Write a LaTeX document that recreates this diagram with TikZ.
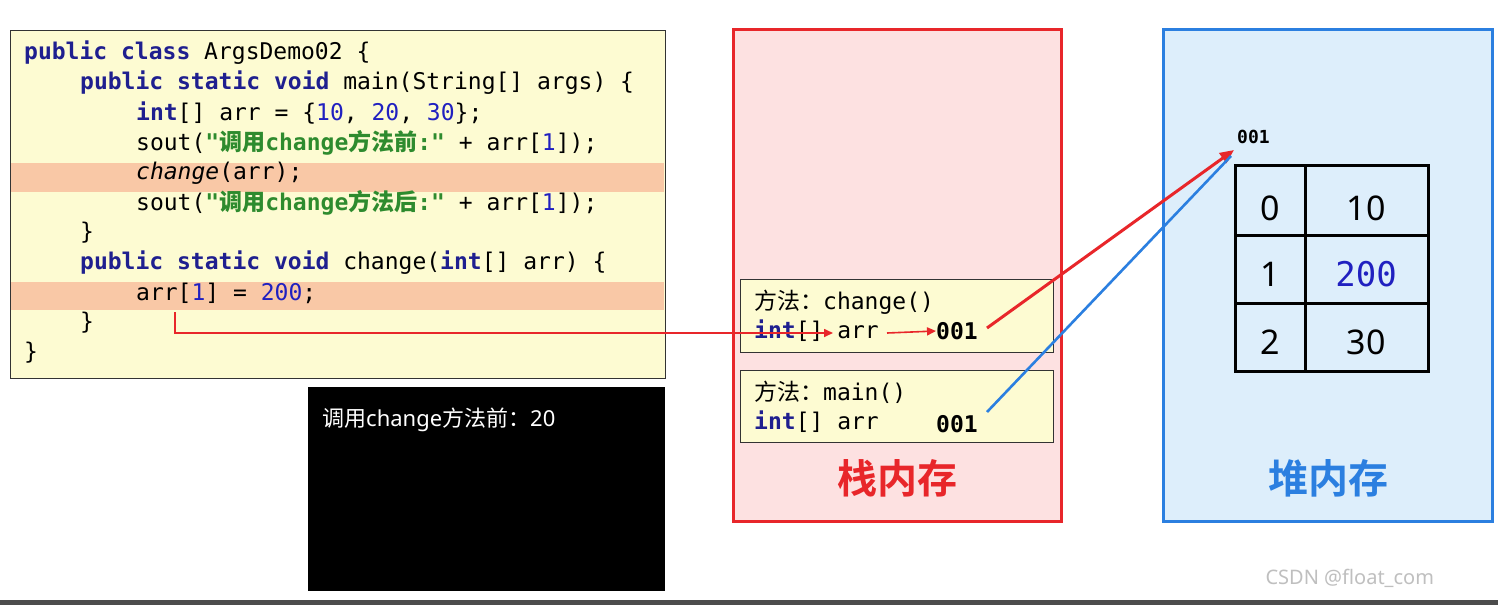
\documentclass[tikz,border=0pt]{standalone}
\usepackage{fontspec}
\setmainfont{Noto Sans}
\setmonofont{DejaVu Sans Mono}
\newfontfamily\cjk{Noto Sans CJK SC}
\newfontfamily\cjkb{Noto Sans CJK SC Bold}
\usetikzlibrary{arrows.meta}
\definecolor{kw}{HTML}{1F1F8F}
\definecolor{num}{HTML}{2020C0}
\definecolor{str}{HTML}{2E8B2E}
\definecolor{codebg}{HTML}{FDFBD2}
\definecolor{hl}{HTML}{F9C8A6}
\definecolor{stackbg}{HTML}{FDE1E1}
\definecolor{heapbg}{HTML}{DDEEFB}
\definecolor{myred}{HTML}{E8262A}
\definecolor{myblue}{HTML}{2B7FE0}
\newcommand{\K}[1]{\textbf{\textcolor{kw}{#1}}}
\newcommand{\N}[1]{\textcolor{num}{#1}}
\newcommand{\Sx}[1]{\textcolor{str}{\textbf{#1}}}
\newcommand{\C}[1]{{\cjk #1}}
\newcommand{\CB}[1]{{\cjkb #1}}
\begin{document}
\begin{tikzpicture}[x=1pt,y=-1pt,
  code/.style={anchor=west,inner sep=0pt,font=\ttfamily\fontsize{23}{23}\selectfont},
  frame/.style={draw=black!80,line width=1.2pt,fill=codebg},
  redline/.style={draw=myred,line width=1.6pt},
  blueline/.style={draw=myblue,line width=2.6pt}]
\useasboundingbox (0,0) rectangle (1498,605);
\fill[white] (0,0) rectangle (1498,605);
% code box
\node[frame,minimum width=655pt,minimum height=348pt,anchor=north west,inner sep=0pt] (codebox) at (10,30) {};
\fill[hl] (11,163) rectangle (664,192);
\fill[hl] (11,282) rectangle (664,310);
\node[code] (l1) at (24,53) {\K{public} \K{class} ArgsDemo02 \{};
\node[code] (l2) at (80,83) {\K{public} \K{static} \K{void} main(String[] args) \{};
\node[code] (l3) at (136,113) {\K{int}[] arr = \{\N{10}, \N{20}, \N{30}\};};
\node[code] (l4) at (136,143) {sout(\Sx{"\CB{调用}change\CB{方法前}:"} + arr[\N{1}]);};
\node[code] (l5) at (136,173) {\textit{change}(arr);};
\node[code] (l6) at (136,203) {sout(\Sx{"\CB{调用}change\CB{方法后}:"} + arr[\N{1}]);};
\node[code] (l7) at (80,233) {\}};
\node[code] (l8) at (80,263) {\K{public} \K{static} \K{void} change(\K{int}[] arr) \{};
\node[code] (l9) at (136,293) {arr[\N{1}] = \N{200};};
\node[code] (l10) at (80,323) {\}};
\node[code] (l11) at (24,353) {\}};
% console
\node[fill=black,minimum width=357pt,minimum height=204pt,anchor=north west,inner sep=0pt] (console) at (308,387) {};
\node[code,text=white,font=\fontsize{22}{22}\selectfont] (out) at (322,420) {\C{调用}change\C{方法前：}20};
% stack
\node[draw=myred,line width=3pt,fill=stackbg,minimum width=328pt,minimum height=492pt,anchor=north west,inner sep=0pt] (stack) at (732,28) {};
\node[frame,minimum width=313pt,minimum height=73pt,anchor=north west,inner sep=0pt] (f1) at (740,279) {};
\node[frame,minimum width=313pt,minimum height=72pt,anchor=north west,inner sep=0pt] (f2) at (740,370) {};
\node[code] (f1a) at (754,302) {\C{方法：}change()};
\node[code] (f1b) at (754,331) {\K{int}[] arr};
\node[code] (f1c) at (936,331) {\textbf{001}};
\node[code] (f2a) at (754,392) {\C{方法：}main()};
\node[code] (f2b) at (754,422) {\K{int}[] arr};
\node[code] (f2c) at (936,424) {\textbf{001}};
\node[text=myred,font=\cjkb\fontsize{40}{40}\selectfont] (stl) at (897,478) {栈内存};
% heap
\node[draw=myblue,line width=3pt,fill=heapbg,minimum width=329pt,minimum height=492pt,anchor=north west,inner sep=0pt] (heap) at (1162,28) {};
\node[code,font=\ttfamily\bfseries\fontsize{18}{18}\selectfont] (addr) at (1237,137) {001};
\draw[line width=3pt] (1235,165) rectangle (1428,371);
\draw[line width=3pt] (1305,165) -- (1305,371) (1235,235) -- (1428,235) (1235,303) -- (1428,303);
\begin{scope}[every node/.style={font=\fontsize{34}{34}\selectfont}]
\node (i0) at (1270,208) {0};
\node (v0) at (1366,208) {10};
\node (i1) at (1270,274) {1};
\node[text=num,font=\ttfamily\fontsize{34}{34}\selectfont] (v1) at (1366,274) {200};
\node (i2) at (1270,342) {2};
\node (v2) at (1366,342) {30};
\end{scope}
\node[text=myblue,font=\cjkb\fontsize{40}{40}\selectfont] (hpl) at (1328,478) {堆内存};
% arrows
\coordinate (s0) at (175,312);
\coordinate (s1) at (175,333);
\coordinate (s2) at (833,333);
\draw[redline,-{Triangle[length=9pt,width=8pt]}] (s0) -- (s1) -- (s2);
\coordinate (a0) at (887,333);
\draw[redline,-{Triangle[length=9pt,width=8pt]}] (a0) -- (f1c.west);
\coordinate (r0) at (987,328);
\coordinate (r1) at (1234,150);
\draw[draw=myred,line width=3pt,-{Triangle[length=14pt,width=12pt]}] (r0) -- (r1);
\coordinate (b0) at (987,412);
\draw[blueline] (b0) -- (1231,156);
% watermark
\node[text=black!25,font=\fontsize{20}{20}\selectfont,anchor=west] (wm) at (1262,578) {CSDN @float\_com};
\fill[black!70] (0,600) rectangle (1498,605);
\end{tikzpicture}
\end{document}
